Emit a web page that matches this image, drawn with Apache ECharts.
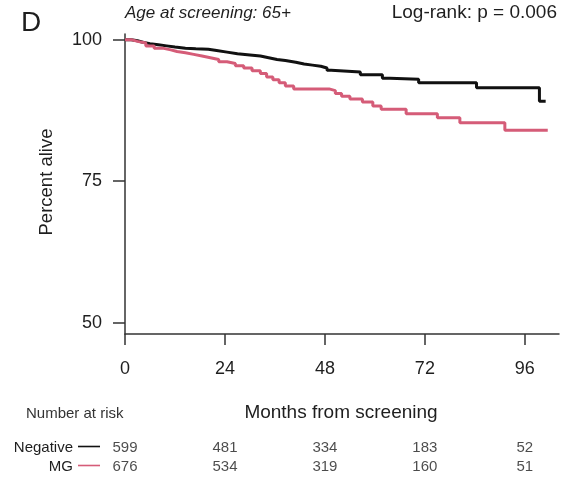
<!DOCTYPE html>
<html>
<head>
<meta charset="utf-8">
<script src="https://cdn.jsdelivr.net/npm/echarts@6/dist/echarts.min.js"></script>
<style>
  html, body { margin: 0; padding: 0; background: #fff; }
  #chart { width: 562px; height: 478px; }
</style>
</head>
<body>
<div id="chart"></div>
<script>
// Kaplan-Meier survival, age at screening 65+ (months, percent alive)
const negTime = [0, 1.5, 3, 4.5, 6, 8, 10, 12, 14.5, 17, 20, 22, 24.5, 27, 30, 32.5, 34.5, 36.5, 38.5, 41, 43, 45, 47, 48.5, 49.5, 56.5, 61.8, 63.6, 70.5, 84.4, 99.5, 101];
const negSurv = [100, 99.8, 99.5, 99.3, 99.1, 98.9, 98.7, 98.5, 98.4, 98.3, 98.1, 97.8, 97.5, 97.3, 97.1, 96.8, 96.5, 96.3, 96.0, 95.7, 95.5, 95.3, 95.0, 94.6, 94.3, 93.8, 93.2, 93.0, 92.4, 91.5, 89.1, 89.1];

const mgTime = [0, 1.5, 3, 5, 7, 9, 11, 12.5, 14.5, 16.5, 18.5, 20.5, 22.5, 24.5, 26.5, 28.5, 30.5, 32.5, 34, 35.5, 37, 38.5, 40.5, 49, 50.5, 52, 54, 57, 59.5, 61.5, 67.5, 75, 80.4, 91.2, 101.5];
const mgSurv = [100, 99.7, 99.4, 98.9, 98.5, 98.2, 97.9, 97.7, 97.4, 97.1, 96.8, 96.5, 96.1, 95.8, 95.4, 95.0, 94.5, 94.0, 93.4, 92.9, 92.4, 91.8, 91.3, 91.0, 90.5, 90.0, 89.5, 89.0, 88.3, 87.7, 86.9, 86.2, 85.3, 84.0, 84.0];

const xTicks = [0, 24, 48, 72, 96];
const yTicks = [50, 75, 100];

// Number at risk table
const groups = ['Negative', 'MG'];
const riskTimes = [0, 24, 48, 72, 96];
const riskNegative = [599, 481, 334, 183, 52];
const riskMG = [676, 534, 319, 160, 51];

const FONT = '"Liberation Sans", Arial, Helvetica, sans-serif';
const INK = '#1e1e1e';
const AXIS = '#333';
const colNeg = '#111111';
const colMG = '#d55c78';

const zip = (t, s) => t.map((v, i) => [v, s[i]]);

const riskData = [];
riskTimes.forEach((t, i) => {
  riskData.push({ value: [t, 'Negative', riskNegative[i]] });
  riskData.push({ value: [t, 'MG', riskMG[i]] });
});

const chart = echarts.init(document.getElementById('chart'), null, { renderer: 'canvas' });

const option = {
  animation: false,
  backgroundColor: '#fff',
  textStyle: { fontFamily: FONT },
  grid: [
    { left: 125, top: 34, width: 434, height: 300 },
    { left: 125, top: 438, width: 434, height: 38 }
  ],
  xAxis: [
    {
      type: 'value', gridIndex: 0, min: 0, max: 104.2,
      axisLine: { show: true, onZero: false, lineStyle: { color: AXIS, width: 1.5 } },
      axisTick: { show: true, length: 11, customValues: xTicks, lineStyle: { color: AXIS, width: 1.5 } },
      axisLabel: { customValues: xTicks, margin: 26, fontSize: 18, color: INK, fontFamily: FONT },
      splitLine: { show: false }
    },
    { type: 'value', gridIndex: 1, min: 0, max: 104.2, show: false }
  ],
  yAxis: [
    {
      type: 'value', gridIndex: 0, min: 48, max: 101,
      axisLine: { show: true, onZero: false, lineStyle: { color: AXIS, width: 1.5 } },
      axisTick: { show: true, length: 12, customValues: yTicks, lineStyle: { color: AXIS, width: 1.5 } },
      axisLabel: { customValues: yTicks, margin: 23, fontSize: 18, color: INK, fontFamily: FONT },
      splitLine: { show: false }
    },
    { type: 'category', gridIndex: 1, data: groups, inverse: true, show: false }
  ],
  series: [
    {
      name: 'Negative', type: 'line', step: 'end', xAxisIndex: 0, yAxisIndex: 0,
      data: zip(negTime, negSurv), symbol: 'none',
      lineStyle: { color: colNeg, width: 3 }, z: 2
    },
    {
      name: 'MG', type: 'line', step: 'end', xAxisIndex: 0, yAxisIndex: 0,
      data: zip(mgTime, mgSurv), symbol: 'none',
      lineStyle: { color: colMG, width: 3 }, z: 3
    },
    {
      name: 'at risk', type: 'scatter', xAxisIndex: 1, yAxisIndex: 1,
      data: riskData, symbolSize: 0,
      label: {
        show: true, position: 'inside', fontSize: 15, color: INK, fontFamily: FONT,
        formatter: p => String(p.value[2])
      }
    }
  ],
  graphic: [
    { type: 'text', x: 21, y: 23, style: { text: 'D', fontSize: 28, fontFamily: FONT, fill: INK, verticalAlign: 'middle' } },
    { type: 'text', x: 125, y: 13, style: { text: 'Age at screening: 65+', fontSize: 17, fontStyle: 'italic', fontFamily: FONT, fill: INK, verticalAlign: 'middle' } },
    { type: 'text', x: 557, y: 13, style: { text: 'Log-rank: p = 0.006', fontSize: 19, fontFamily: FONT, fill: INK, align: 'right', verticalAlign: 'middle' } },
    { type: 'text', x: 47, y: 182, rotation: Math.PI / 2, style: { text: 'Percent alive', fontSize: 18.5, fontFamily: FONT, fill: INK, align: 'center', verticalAlign: 'middle' } },
    { type: 'text', x: 341, y: 413, style: { text: 'Months from screening', fontSize: 19, fontFamily: FONT, fill: INK, align: 'center', verticalAlign: 'middle' } },
    { type: 'text', x: 26, y: 414, style: { text: 'Number at risk', fontSize: 15, fontFamily: FONT, fill: '#333', verticalAlign: 'middle' } },
    { type: 'text', x: 73, y: 447.5, style: { text: 'Negative', fontSize: 15, fontFamily: FONT, fill: INK, align: 'right', verticalAlign: 'middle' } },
    { type: 'text', x: 73, y: 467, style: { text: 'MG', fontSize: 15, fontFamily: FONT, fill: INK, align: 'right', verticalAlign: 'middle' } },
    { type: 'line', shape: { x1: 78, y1: 446.5, x2: 100, y2: 446.5 }, style: { stroke: colNeg, lineWidth: 1.6 } },
    { type: 'line', shape: { x1: 78, y1: 465.5, x2: 100, y2: 465.5 }, style: { stroke: colMG, lineWidth: 1.6 } }
  ]
};

chart.setOption(option);
</script>
</body>
</html>
